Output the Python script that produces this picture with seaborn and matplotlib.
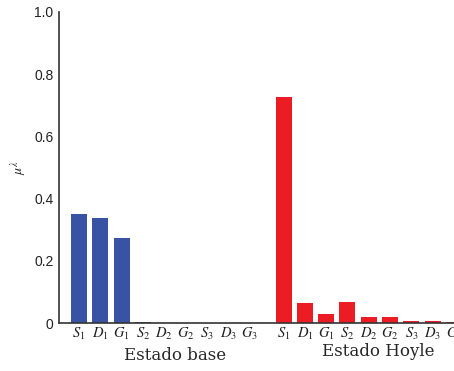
import matplotlib
matplotlib.use("Agg")
import matplotlib.pyplot as plt
import seaborn as sns
import pandas as pd
import numpy as np

states = ["S_1", "D_1", "G_1", "S_2", "D_2", "G_2", "S_3", "D_3", "G_3"]
base_values = [0.350, 0.338, 0.275, 0.003, 0.002, 0.0, 0.0, 0.002, 0.0]
hoyle_values = [0.725, 0.064, 0.028, 0.068, 0.021, 0.021, 0.008, 0.008, 0.004]
groups = ["Estado base", "Estado Hoyle"]
colors = ["#3953A4", "#EC1C24"]

gap = 9.6
n = len(states)
x_base = list(range(n))
x_hoyle = [i + gap for i in range(n)]

df = pd.DataFrame({
    "x": x_base + x_hoyle,
    "y": base_values + hoyle_values,
    "group": [groups[0]] * n + [groups[1]] * n,
})

sns.set_theme(style="white")
plt.rcParams["mathtext.fontset"] = "stix"
plt.rcParams["font.family"] = ["Liberation Sans", "DejaVu Sans"]

fig = plt.figure(figsize=(4.54, 3.71), dpi=100)
ax = fig.add_axes([0.130, 0.129, 0.870, 0.839])

sns.barplot(data=df, x="x", y="y", hue="group", native_scale=True,
            palette=colors, width=0.75, dodge=False, legend=False, ax=ax,
            saturation=1, edgecolor="none")

ax.set_xlim(-0.94, 17.6)
ax.set_ylim(0, 1.0)
ax.set_yticks([0, 0.2, 0.4, 0.6, 0.8, 1.0])
ax.set_yticklabels(["0", "0.2", "0.4", "0.6", "0.8", "1.0"], fontsize=10, color="#222222")
ax.set_xticks(x_base + x_hoyle)
ax.set_xticklabels([f"${s}$" for s in states] * 2, fontsize=10.5, color="#222222")
ax.tick_params(axis="x", length=0, pad=2)
ax.tick_params(axis="y", direction="in", length=4, width=1, color="#333333", pad=4)
ax.set_xlabel("")
ax.set_ylabel(r"$\mu^{\lambda}$", fontsize=10, labelpad=3)

for s in ["top", "right"]:
    ax.spines[s].set_visible(False)
for s in ["left", "bottom"]:
    ax.spines[s].set_color("#333333")
    ax.spines[s].set_linewidth(1.2)

fig.text(175 / 454, 1 - 355 / 371, groups[0], ha="center", va="center",
         fontsize=12, family="DejaVu Serif")
fig.text(378 / 454, 1 - 352 / 371, groups[1], ha="center", va="center",
         fontsize=12, family="DejaVu Serif")

fig.savefig("out.png", dpi=100)
